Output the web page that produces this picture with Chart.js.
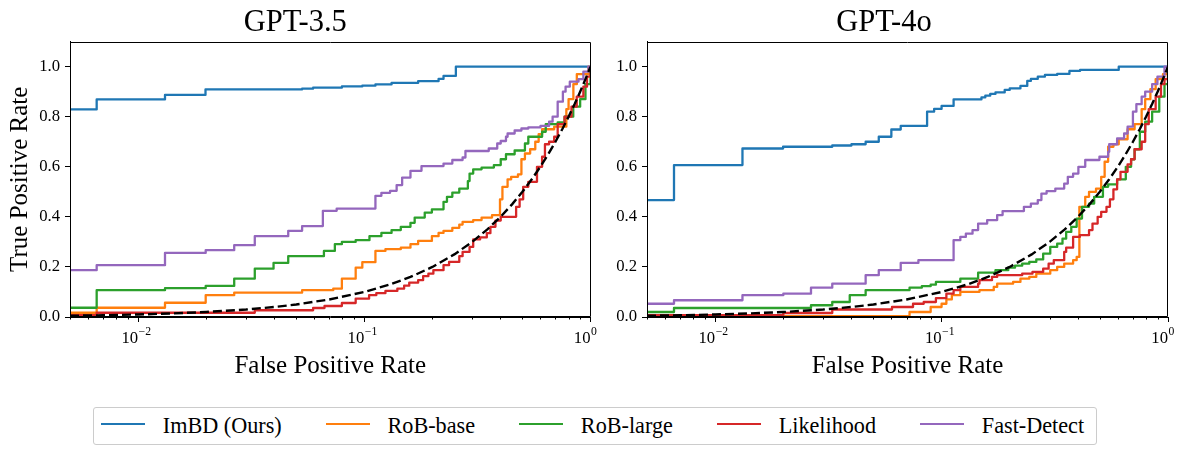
<!DOCTYPE html>
<html><head><meta charset="utf-8">
<script src="https://cdn.jsdelivr.net/npm/chart.js@4.4.0/dist/chart.umd.min.js"></script>
<style>
body{margin:0;background:#fff;width:1189px;height:454px;overflow:hidden;position:relative;font-family:"Liberation Serif","Times New Roman",serif;}
canvas{position:absolute;top:0;}
#c1{left:0px} #c2{left:600px}
#legend{position:absolute;left:93px;top:407px;width:1004px;height:38px;box-sizing:border-box;border:1px solid #cccccc;border-radius:3px;display:flex;align-items:center;padding-left:7px;font-size:22.2px;color:#000;}
.item{display:flex;align-items:center;margin-right:44px;white-space:nowrap}
.sw{width:44px;height:2.2px;margin-right:17.8px;position:relative;top:-2px}
</style></head>
<body>
<canvas id="c1" width="610" height="390"></canvas>
<canvas id="c2" width="589" height="390"></canvas>
<div id="legend"></div>
<script>
// ---------- data ----------
const panelTitles = ["GPT-3.5", "GPT-4o"];
const seriesNames = ["ImBD (Ours)", "RoB-base", "RoB-large", "Likelihood", "Fast-Detect"];
const seriesColors = ["#1f77b4", "#ff7f0e", "#2ca02c", "#d62728", "#9467bd"];
const yTickValues = [0.0, 0.2, 0.4, 0.6, 0.8, 1.0];
const xTickBase = "10";
const xTickExponents = {"-2": "\u22122", "-1": "\u22121", "0": "0"};
// chance diagonal (FPR = TPR)
const chance = [0.005,0.007,0.01,0.014,0.02,0.03,0.04,0.05,0.07,0.1,0.13,0.16,0.2,0.25,0.3,0.35,0.4,0.45,0.5,0.55,0.6,0.65,0.7,0.75,0.8,0.85,0.9,0.95,1.0];

// GPT-3.5 ROC points [FPR, TPR]
const g35_imbd = [[0.005,0.829],[0.00656,0.869],[0.01315,0.887],[0.01986,0.909],[0.0531,0.912],[0.0594,0.916],[0.0796,0.921],[0.098,0.924],[0.112,0.929],[0.132,0.935],[0.173,0.942],[0.213,0.951],[0.224,0.963],[0.254,1.0],[1,1]];
const g35_robbase = [[0.005,0.017],[0.00656,0.037],[0.01315,0.057],[0.0199,0.087],[0.0266,0.097],[0.0531,0.107],[0.0729,0.113],[0.0796,0.153],[0.0916,0.197],[0.098,0.219],[0.112,0.264],[0.124,0.271],[0.145,0.277],[0.160,0.291],[0.173,0.304],[0.199,0.323],[0.213,0.336],[0.224,0.344],[0.245,0.356],[0.263,0.369],[0.272,0.38],[0.303,0.387],[0.330,0.397],[0.367,0.407],[0.398,0.47],[0.408,0.52],[0.43,0.55],[0.446,0.56],[0.478,0.57],[0.495,0.63],[0.513,0.653],[0.541,0.67],[0.57,0.70],[0.59,0.73],[0.611,0.75],[0.691,0.76],[0.782,0.83],[0.80,0.87],[0.84,0.93],[0.87,0.97],[0.98,1.0],[1,1]];
const g35_roblarge = [[0.005,0.037],[0.00656,0.107],[0.01315,0.115],[0.0199,0.124],[0.0266,0.153],[0.0328,0.193],[0.0397,0.216],[0.0461,0.243],[0.0663,0.264],[0.0741,0.291],[0.0796,0.30],[0.0916,0.307],[0.1054,0.323],[0.119,0.336],[0.132,0.347],[0.145,0.36],[0.160,0.376],[0.167,0.397],[0.185,0.417],[0.199,0.43],[0.224,0.46],[0.232,0.48],[0.245,0.497],[0.263,0.513],[0.287,0.543],[0.292,0.573],[0.303,0.59],[0.330,0.597],[0.374,0.607],[0.401,0.63],[0.423,0.65],[0.462,0.665],[0.513,0.693],[0.531,0.72],[0.611,0.74],[0.634,0.77],[0.716,0.777],[0.768,0.80],[0.839,0.84],[0.90,0.87],[0.95,0.93],[1,1]];
const g35_likelihood = [[0.005,0.007],[0.00656,0.017],[0.0328,0.027],[0.0594,0.036],[0.0667,0.044],[0.0796,0.056],[0.0916,0.073],[0.105,0.087],[0.113,0.095],[0.124,0.104],[0.140,0.113],[0.150,0.125],[0.158,0.137],[0.173,0.147],[0.182,0.163],[0.192,0.173],[0.202,0.187],[0.224,0.207],[0.237,0.22],[0.263,0.243],[0.272,0.26],[0.292,0.28],[0.303,0.31],[0.325,0.318],[0.348,0.335],[0.361,0.36],[0.380,0.385],[0.401,0.40],[0.469,0.44],[0.486,0.47],[0.504,0.52],[0.531,0.54],[0.58,0.60],[0.611,0.64],[0.629,0.69],[0.656,0.70],[0.691,0.72],[0.716,0.77],[0.768,0.80],[0.824,0.84],[0.869,0.88],[0.93,0.92],[0.965,0.96],[1,1]];
const g35_fastdetect = [[0.005,0.187],[0.00656,0.207],[0.01315,0.256],[0.0199,0.267],[0.0266,0.287],[0.0328,0.323],[0.0461,0.344],[0.0531,0.363],[0.0656,0.424],[0.0755,0.433],[0.112,0.484],[0.119,0.496],[0.130,0.504],[0.139,0.527],[0.147,0.557],[0.160,0.584],[0.179,0.603],[0.224,0.613],[0.245,0.627],[0.272,0.637],[0.280,0.663],[0.355,0.673],[0.387,0.693],[0.401,0.703],[0.423,0.72],[0.43,0.733],[0.462,0.745],[0.495,0.753],[0.531,0.757],[0.601,0.763],[0.656,0.78],[0.68,0.80],[0.716,0.86],[0.755,0.90],[0.776,0.92],[0.81,0.94],[0.885,0.95],[0.93,0.98],[0.98,1.0],[1,1]];

// GPT-4o ROC points [FPR, TPR]
const g4o_imbd = [[0.005,0.467],[0.00658,0.607],[0.0132,0.673],[0.01995,0.68],[0.0329,0.685],[0.040,0.69],[0.0462,0.70],[0.0528,0.72],[0.060,0.749],[0.066,0.763],[0.0863,0.82],[0.0927,0.831],[0.1,0.843],[0.113,0.869],[0.150,0.877],[0.156,0.884],[0.164,0.891],[0.173,0.897],[0.190,0.907],[0.2,0.913],[0.223,0.923],[0.239,0.943],[0.248,0.951],[0.266,0.96],[0.286,0.967],[0.324,0.971],[0.367,0.983],[0.409,0.987],[0.606,1.0],[1,1]];
const g4o_robbase = [[0.005,0.003],[0.0722,0.02],[0.0895,0.04],[0.1,0.053],[0.105,0.07],[0.111,0.087],[0.121,0.1],[0.147,0.107],[0.170,0.12],[0.176,0.133],[0.207,0.14],[0.223,0.153],[0.244,0.16],[0.262,0.173],[0.302,0.187],[0.324,0.20],[0.348,0.213],[0.381,0.227],[0.395,0.24],[0.406,0.44],[0.431,0.48],[0.448,0.50],[0.481,0.513],[0.507,0.56],[0.525,0.62],[0.544,0.68],[0.574,0.69],[0.606,0.71],[0.663,0.75],[0.712,0.77],[0.765,0.83],[0.793,0.87],[0.836,0.91],[0.882,0.95],[0.95,0.97],[1,1]];
const g4o_roblarge = [[0.005,0.02],[0.00658,0.036],[0.0265,0.047],[0.0329,0.06],[0.0393,0.087],[0.0462,0.107],[0.0722,0.117],[0.0818,0.123],[0.0895,0.129],[0.0944,0.14],[0.121,0.153],[0.145,0.177],[0.173,0.187],[0.197,0.197],[0.211,0.205],[0.227,0.213],[0.244,0.22],[0.262,0.23],[0.281,0.253],[0.302,0.28],[0.324,0.293],[0.342,0.313],[0.355,0.34],[0.374,0.36],[0.395,0.393],[0.417,0.44],[0.448,0.453],[0.472,0.48],[0.516,0.52],[0.544,0.53],[0.596,0.55],[0.651,0.60],[0.687,0.63],[0.712,0.67],[0.751,0.74],[0.793,0.78],[0.851,0.82],[0.915,0.88],[0.965,0.93],[1,1]];
const g4o_likelihood = [[0.005,0.007],[0.02,0.016],[0.0329,0.03],[0.0604,0.04],[0.0748,0.053],[0.0834,0.06],[0.0944,0.075],[0.105,0.093],[0.113,0.107],[0.121,0.12],[0.145,0.133],[0.147,0.147],[0.167,0.16],[0.176,0.167],[0.227,0.173],[0.252,0.18],[0.281,0.193],[0.297,0.213],[0.313,0.227],[0.348,0.26],[0.355,0.277],[0.381,0.32],[0.408,0.327],[0.448,0.347],[0.464,0.373],[0.489,0.40],[0.507,0.42],[0.535,0.44],[0.554,0.47],[0.574,0.51],[0.596,0.55],[0.617,0.58],[0.663,0.61],[0.687,0.63],[0.712,0.67],[0.765,0.70],[0.793,0.77],[0.822,0.83],[0.882,0.88],[0.931,0.93],[0.965,0.95],[1,1]];
const g4o_fastdetect = [[0.005,0.053],[0.00658,0.067],[0.0132,0.087],[0.02,0.093],[0.0265,0.117],[0.0329,0.133],[0.0462,0.167],[0.0528,0.187],[0.066,0.216],[0.079,0.227],[0.113,0.307],[0.121,0.32],[0.128,0.333],[0.137,0.347],[0.145,0.373],[0.159,0.387],[0.176,0.407],[0.186,0.423],[0.231,0.44],[0.248,0.453],[0.266,0.467],[0.276,0.493],[0.291,0.503],[0.318,0.513],[0.348,0.533],[0.361,0.56],[0.381,0.573],[0.402,0.60],[0.431,0.627],[0.498,0.64],[0.544,0.66],[0.55,0.69],[0.596,0.713],[0.64,0.733],[0.663,0.76],[0.70,0.82],[0.725,0.85],[0.765,0.88],[0.793,0.90],[0.851,0.93],[0.898,0.96],[0.965,1.0],[1,1]];

const panelSeries = [
  [g35_imbd, g35_robbase, g35_roblarge, g35_likelihood, g35_fastdetect],
  [g4o_imbd, g4o_robbase, g4o_roblarge, g4o_likelihood, g4o_fastdetect]
];

// ---------- chart ----------
const FONT = "'Liberation Serif', 'Times New Roman', serif";
const TICK_SIZE = 16.7, TICK_LEN = 5, TICK_PAD = 7;
function isMajor(v){ if(!(v>0)) return false; const l=Math.log10(v); return Math.abs(l-Math.round(l))<1e-6; }

const framePlugin = {
  id: 'frame',
  afterDraw(chart){
    const {ctx, chartArea:a} = chart;
    const L=Math.round(a.left)+0.5, R=Math.round(a.right)-0.5, T=Math.round(a.top)+0.5, B=Math.round(a.bottom)-0.5;
    ctx.save();
    ctx.strokeStyle='#000'; ctx.lineWidth=1;
    ctx.beginPath();
    ctx.moveTo(L,T); ctx.lineTo(R,T); ctx.lineTo(R,B); ctx.lineTo(L,B); ctx.closePath();
    const xs = chart.scales.x;
    xs.ticks.forEach(t=>{
      if(!isMajor(t.value)){
        const px = Math.round(xs.getPixelForValue(t.value))+0.5;
        ctx.moveTo(px,B); ctx.lineTo(px,B+3);
      }
    });
    ctx.stroke();
    // superscript exponents of the "10" tick labels
    ctx.fillStyle = '#000';
    ctx.font = `11.7px ${FONT}`;
    ctx.textAlign = 'left';
    ctx.textBaseline = 'middle';
    const labelMid = xs.top + TICK_LEN + TICK_PAD + TICK_SIZE * 1.2 / 2;
    xs.ticks.forEach(t=>{
      if(isMajor(t.value)){
        const k = String(Math.round(Math.log10(t.value)));
        const px = xs.getPixelForValue(t.value);
        ctx.fillText(xTickExponents[k], px + 0.5, labelMid - 7);
      }
    });
    ctx.restore();
  }
};

function makeChart(canvasId, idx, yWidth, padRight, showYTitle){
  const datasets = [];
  datasets.push({
    label: 'chance',
    data: chance.map(v=>({x:v, y:v})),
    borderColor: '#000', borderWidth: 2.4, borderDash: [9, 4],
    pointRadius: 0, fill: false, order: 0, tension: 0
  });
  panelSeries[idx].forEach((s, i)=>{
    datasets.push({
      label: seriesNames[i],
      data: s.map(p=>({x:p[0], y:p[1]})),
      borderColor: seriesColors[i], borderWidth: 2.3,
      stepped: 'before', pointRadius: 0, fill: false,
      borderJoinStyle: 'round',
      order: [5,4,3,2,1][i]
    });
  });
  return new Chart(document.getElementById(canvasId), {
    type: 'line',
    data: { datasets },
    plugins: [framePlugin],
    options: {
      responsive: false, animation: false, devicePixelRatio: 1,
      layout: { padding: { top: 2, right: padRight, bottom: 0, left: 0 } },
      plugins: {
        legend: { display: false },
        tooltip: { enabled: false },
        title: { display: true, text: panelTitles[idx], color: '#000',
                 font: { family: FONT, size: 30.5, weight: 'normal', lineHeight: 1.2 },
                 padding: { top: 3, bottom: 0 } }
      },
      scales: {
        x: {
          type: 'logarithmic', min: 0.005, max: 1,
          afterFit: s => { s.height = 73; },
          afterBuildTicks: s => {
            s.ticks = s.ticks.filter(t => {
              const m = t.value / Math.pow(10, Math.floor(Math.log10(t.value) + 1e-9));
              return Math.abs(m - 1.5) > 1e-6;
            });
          },
          ticks: {
            autoSkip: false, maxRotation: 0, minRotation: 0, padding: TICK_PAD, color: '#000',
            align: 'end',
            font: { family: FONT, size: TICK_SIZE },
            callback: v => isMajor(v) ? xTickBase : ''
          },
          grid: { display: true, drawOnChartArea: false, drawTicks: true, tickLength: TICK_LEN,
                  tickColor: c => (c.tick && isMajor(c.tick.value)) ? '#000' : 'rgba(0,0,0,0)', tickWidth: 1 },
          border: { display: true, color: '#000', width: 1 },
          title: { display: true, text: 'False Positive Rate', color: '#000',
                   font: { family: FONT, size: 25, lineHeight: 1.2 }, padding: { top: 0, bottom: 9 } }
        },
        y: {
          type: 'linear', min: 0, max: 1.1,
          afterFit: s => { s.width = yWidth; },
          afterBuildTicks: s => { s.ticks = yTickValues.map(v => ({ value: v })); },
          ticks: { color: '#000', padding: 5, font: { family: FONT, size: TICK_SIZE },
                   callback: v => Number(v).toFixed(1) },
          grid: { display: true, drawOnChartArea: false, drawTicks: true, tickLength: TICK_LEN, tickColor: '#000', tickWidth: 1 },
          border: { display: true, color: '#000', width: 1 },
          title: { display: showYTitle, text: 'True Positive Rate', color: '#000',
                   font: { family: FONT, size: 25, lineHeight: 1.2 }, padding: { top: 5, bottom: 0 } }
        }
      }
    }
  });
}

makeChart('c1', 0, 70, 19.5, true);
makeChart('c2', 1, 47, 21, false);

// ---------- legend ----------
const lg = document.getElementById('legend');
seriesNames.forEach((n, i) => {
  const it = document.createElement('div'); it.className = 'item';
  if (i === seriesNames.length - 1) it.style.marginRight = '0';
  const sw = document.createElement('span'); sw.className = 'sw'; sw.style.background = seriesColors[i];
  const tx = document.createElement('span'); tx.textContent = n;
  it.appendChild(sw); it.appendChild(tx); lg.appendChild(it);
});
</script>
</body></html>
